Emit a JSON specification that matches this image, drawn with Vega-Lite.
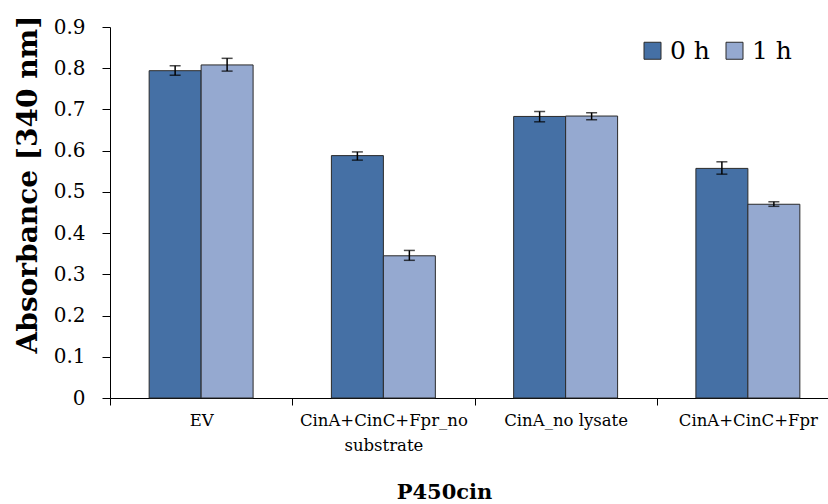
{
  "$schema": "https://vega.github.io/schema/vega-lite/v6.json",
  "width": 718,
  "height": 371,
  "autosize": {"type": "none"},
  "padding": {"left": 110, "top": 27, "right": 0, "bottom": 106},
  "background": "white",
  "config": {
    "view": {"stroke": null},
    "font": "DejaVu Serif",
    "axis": {"grid": false, "domainColor": "#000", "tickColor": "#000", "labelColor": "#000", "titleColor": "#000", "domainWidth": 1, "tickWidth": 1}
  },
  "data": {
    "values": [
      {"group": "EV", "time": "0 h", "value": 0.794, "lo": 0.783, "hi": 0.806},
      {"group": "EV", "time": "1 h", "value": 0.808, "lo": 0.793, "hi": 0.824},
      {"group": "CinA+CinC+Fpr_no substrate", "time": "0 h", "value": 0.588, "lo": 0.577, "hi": 0.597},
      {"group": "CinA+CinC+Fpr_no substrate", "time": "1 h", "value": 0.345, "lo": 0.334, "hi": 0.358},
      {"group": "CinA_no lysate", "time": "0 h", "value": 0.683, "lo": 0.670, "hi": 0.695},
      {"group": "CinA_no lysate", "time": "1 h", "value": 0.684, "lo": 0.675, "hi": 0.692},
      {"group": "CinA+CinC+Fpr", "time": "0 h", "value": 0.557, "lo": 0.543, "hi": 0.573},
      {"group": "CinA+CinC+Fpr", "time": "1 h", "value": 0.470, "lo": 0.465, "hi": 0.476}
    ]
  },
  "encoding": {
    "x": {
      "field": "group",
      "type": "nominal",
      "sort": ["EV", "CinA+CinC+Fpr_no substrate", "CinA_no lysate", "CinA+CinC+Fpr"],
      "scale": {"range": [0, 729], "paddingInner": 0, "paddingOuter": 0},
      "axis": {
        "title": "P450cin",
        "titleFontSize": 21,
        "titleFontWeight": "bold",
        "titleX": 334,
        "titleY": 94,
        "titleAlign": "center",
        "titleBaseline": "middle",
        "labelAngle": 0,
        "labelFontSize": 16.5,
        "labelLineHeight": 25,
        "labelPadding": 7,
        "tickSize": 7,
        "tickBand": "extent",
        "labelExpr": "datum.label == 'CinA+CinC+Fpr_no substrate' ? ['CinA+CinC+Fpr_no', 'substrate'] : datum.label"
      }
    },
    "xOffset": {
      "field": "time",
      "type": "nominal",
      "sort": ["0 h", "1 h"],
      "scale": {"paddingInner": 0, "paddingOuter": 0.753}
    }
  },
  "layer": [
    {
      "mark": {"type": "bar", "stroke": "#2a2a2a", "strokeWidth": 1},
      "encoding": {
        "y": {
          "field": "value",
          "type": "quantitative",
          "scale": {"domain": [0, 0.9], "nice": false},
          "axis": {
            "title": "Absorbance [340 nm]",
            "titleFontSize": 28,
            "titleFontWeight": "bold",
            "titleX": -82,
            "titleY": 157,
            "titleAngle": -90,
            "titleAlign": "center",
            "titleBaseline": "middle",
            "values": [0, 0.1, 0.2, 0.3, 0.4, 0.5, 0.6, 0.7, 0.8, 0.9],
            "format": ".1~f",
            "labelFontSize": 20,
            "labelPadding": 17,
            "tickSize": 8
          }
        },
        "fill": {
          "field": "time",
          "type": "nominal",
          "scale": {"domain": ["0 h", "1 h"], "range": ["#4570a5", "#95a9d0"]},
          "legend": {
            "title": null,
            "orient": "none",
            "legendX": 530,
            "legendY": 11,
            "direction": "horizontal",
            "symbolType": "square",
            "symbolSize": 289,
            "symbolStrokeColor": "#2a2a2a",
            "symbolStrokeWidth": 1,
            "labelFontSize": 25,
            "labelColor": "#000",
            "labelOffset": 5,
            "columnPadding": 12
          }
        }
      }
    },
    {
      "mark": {"type": "rule", "color": "#000", "strokeWidth": 1.5},
      "encoding": {
        "y": {"field": "lo", "type": "quantitative"},
        "y2": {"field": "hi"}
      }
    },
    {
      "mark": {"type": "tick", "color": "#000", "thickness": 1.5, "size": 11},
      "encoding": {"y": {"field": "lo", "type": "quantitative"}}
    },
    {
      "mark": {"type": "tick", "color": "#000", "thickness": 1.5, "size": 11},
      "encoding": {"y": {"field": "hi", "type": "quantitative"}}
    }
  ]
}
